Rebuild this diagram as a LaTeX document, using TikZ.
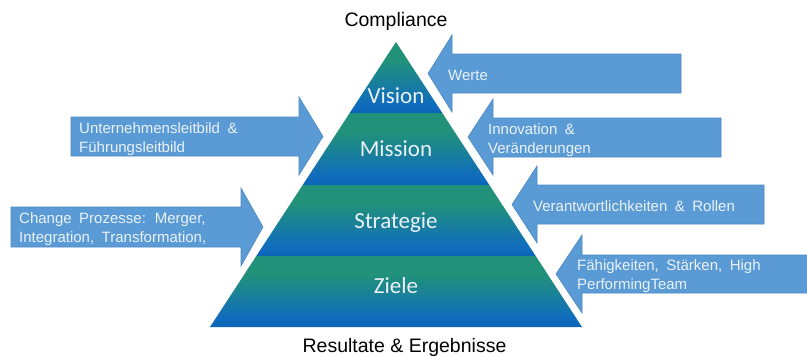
\documentclass[tikz,border=0pt]{standalone}
\usepackage{fontspec}
\setmainfont{Liberation Sans}
\newfontfamily\calib{Carlito}
\definecolor{tealc}{RGB}{33,145,122}
\definecolor{bluec}{RGB}{16,108,190}
\definecolor{bluedark}{RGB}{10,100,182}
\definecolor{arrowfill}{RGB}{91,155,213}
\definecolor{arrowline}{RGB}{76,136,196}
\definecolor{lbl}{RGB}{234,241,247}
\pgfdeclareverticalshading{layershade}{100bp}{color(0bp)=(bluedark); color(25bp)=(bluedark); color(31bp)=(bluec); color(62bp)=(tealc); color(75bp)=(tealc); color(100bp)=(tealc)}
\newcommand{\wordsp}{\spaceskip=0.5em plus 0.1em\relax}
\newcommand{\twolines}[2]{\begin{tabular}[t]{@{}l@{}}#1\\#2\end{tabular}}
\begin{document}
\begin{tikzpicture}[x=1pt,y=-1pt,
  layer/.style={shading=layershade, draw=none},
  laylabel/.style={font={\calib\fontsize{23}{28}\selectfont}, text=lbl, inner sep=0, anchor=base},
  arr/.style={fill=arrowfill, draw=arrowline, line width=0.6pt, line join=miter},
  atext/.style={font={\fontsize{15}{19}\selectfont}, text=lbl, inner sep=0, anchor=base west},
  title/.style={font={\fontsize{19.5}{23}\selectfont}, text=black, inner sep=0, anchor=base}]
\useasboundingbox (0,0) rectangle (807,356);
\clip (0,0) rectangle (807,356);

% pyramid layers (apex (396,42), base y=327 from 210 to 582)
\shade[layer] (396,42) -- (442.3,113) -- (349.7,113) -- cycle;
\shade[layer] (349.7,113) -- (442.3,113) -- (489.3,185) -- (302.7,185) -- cycle;
\shade[layer] (302.7,185) -- (489.3,185) -- (535.7,256) -- (256.3,256) -- cycle;
\shade[layer] (256.3,256) -- (535.7,256) -- (582,327) -- (210,327) -- cycle;

\node[laylabel] (vision) at (396,103) {Vision};
\node[laylabel] (mission) at (396,156) {Mission};
\node[laylabel] (strategie) at (396,228) {Strategie};
\node[laylabel] (ziele) at (396,293) {Ziele};

% right-pointing arrows
\draw[arr] (71,117) -- (299,117) -- (299,97) -- (323,136.5) -- (299,175) -- (299,156) -- (71,156) -- cycle;
\draw[arr] (11,207) -- (241,207) -- (241,188) -- (263,227) -- (241,266) -- (241,247) -- (11,247) -- cycle;
% left-pointing arrows
\draw[arr] (681,54) -- (452,54) -- (452,35) -- (428,73.5) -- (452,112) -- (452,93) -- (681,93) -- cycle;
\draw[arr] (721,118) -- (493,118) -- (493,99) -- (468,137) -- (493,175) -- (493,157) -- (721,157) -- cycle;
\draw[arr] (764,185) -- (537,185) -- (537,166) -- (512,204.5) -- (537,243) -- (537,224) -- (764,224) -- cycle;
\draw[arr] (812,255) -- (582,255) -- (582,235) -- (556,274) -- (582,313) -- (582,293) -- (812,293) -- cycle;

\node[atext] (leitbild) at (79,133) {\wordsp\twolines{Unternehmensleitbild \&}{Führungsleitbild}};
\node[atext] (change) at (19,223) {\wordsp\twolines{Change Prozesse: Merger,}{Integration, Transformation,}};
\node[atext] (werte) at (448,80) {Werte};
\node[atext] (innov) at (488,134) {\wordsp\twolines{Innovation \&}{Veränderungen}};
\node[atext] (verant) at (533,211) {\wordsp Verantwortlichkeiten \& Rollen};
\node[atext] (faehig) at (577,270) {\wordsp\twolines{Fähigkeiten, Stärken, High}{PerformingTeam}};

\node[title] (compliance) at (396,27) {Compliance};
\node[title] (resultate) at (404.5,352) {Resultate \& Ergebnisse};
\end{tikzpicture}
\end{document}
